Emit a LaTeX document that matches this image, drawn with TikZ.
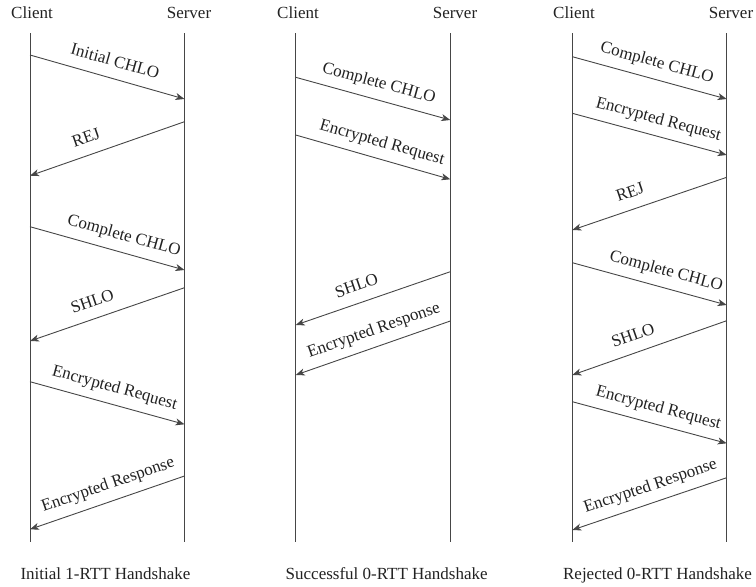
\documentclass[tikz,border=0pt]{standalone}
\usepackage{fontspec}
\setmainfont{Liberation Serif}
\usetikzlibrary{arrows.meta}
\definecolor{ink}{RGB}{34,34,34}
\definecolor{wire}{RGB}{70,70,70}
\tikzset{
  txt/.style={font=\fontsize{17}{20}\selectfont, text=ink, inner sep=0pt},
  lifeline/.style={draw=wire, line width=0.9pt},
  msg/.style={draw=wire, line width=0.9pt,
    -{Stealth[length=9pt, width=7pt, inset=2.5pt]}},
  lbl/.style={txt, sloped, above=11.5pt, text depth=0pt}
}
% one message: prefix, start x, start y, end x, end y, label position, label
\newcommand\msgarrow[7]{%
  \coordinate (#1s) at (#2,#3);
  \coordinate (#1e) at (#4,#5);
  \draw[msg] (#1s) -- node[lbl, pos=#6] {#7} (#1e);}
% one lifeline: name, x
\newcommand\lifeline[2]{%
  \coordinate (#1t) at (#2,33);
  \coordinate (#1b) at (#2,542);
  \draw[lifeline] (#1t) -- (#1b);}
\begin{document}
\begin{tikzpicture}[x=1pt, y=-1pt]
\useasboundingbox (0,0) rectangle (756,587);

% lifelines
\lifeline{ca}{30}
\lifeline{sa}{184.5}
\lifeline{cb}{295.7}
\lifeline{sb}{450.3}
\lifeline{cc}{572.3}
\lifeline{sc}{726.7}

% headings
\node[txt, anchor=base] (hca) at (32,18.3) {Client};
\node[txt, anchor=base] (hsa) at (189,18.3) {Server};
\node[txt, anchor=base] (hcb) at (298,18.3) {Client};
\node[txt, anchor=base] (hsb) at (455,18.3) {Server};
\node[txt, anchor=base] (hcc) at (574,18.3) {Client};
\node[txt, anchor=base] (hsc) at (731,18.3) {Server};

% initial 1-RTT handshake
\msgarrow{a1}{30}{55}{184.5}{99}{0.52}{Initial CHLO}
\msgarrow{a2}{184.5}{121.7}{30}{175.7}{0.60}{REJ}
\msgarrow{a3}{30}{226.7}{184.5}{270}{0.58}{Complete CHLO}
\msgarrow{a4}{184.5}{287.7}{30}{341}{0.56}{SHLO}
\msgarrow{a5}{30}{381.7}{184.5}{424.3}{0.52}{Encrypted Request}
\msgarrow{a6}{184.5}{476}{30}{529.3}{0.46}{Encrypted Response}

% successful 0-RTT handshake
\msgarrow{b1}{295.7}{77.3}{450.3}{120}{0.51}{Complete CHLO}
\msgarrow{b2}{295.7}{135}{450.3}{179.3}{0.53}{Encrypted Request}
\msgarrow{b3}{450.3}{271.7}{295.7}{325}{0.57}{SHLO}
\msgarrow{b4}{450.3}{321}{295.7}{375}{0.46}{Encrypted Response}

% rejected 0-RTT handshake
\msgarrow{c1}{572.3}{56.7}{726.7}{99}{0.52}{Complete CHLO}
\msgarrow{c2}{572.3}{113.3}{726.7}{155}{0.53}{Encrypted Request}
\msgarrow{c3}{726.7}{177.3}{572.3}{230}{0.59}{REJ}
\msgarrow{c4}{572.3}{262.7}{726.7}{305}{0.58}{Complete CHLO}
\msgarrow{c5}{726.7}{320.7}{572.3}{375}{0.57}{SHLO}
\msgarrow{c6}{572.3}{401.7}{726.7}{443.3}{0.53}{Encrypted Request}
\msgarrow{c7}{726.7}{477.7}{572.3}{530}{0.46}{Encrypted Response}

% captions
\node[txt, anchor=base] (capa) at (105.5,579) {Initial 1-RTT Handshake};
\node[txt, anchor=base] (capb) at (386.7,579) {Successful 0-RTT Handshake};
\node[txt, anchor=base] (capc) at (657.5,579) {Rejected 0-RTT Handshake};
\end{tikzpicture}
\end{document}
